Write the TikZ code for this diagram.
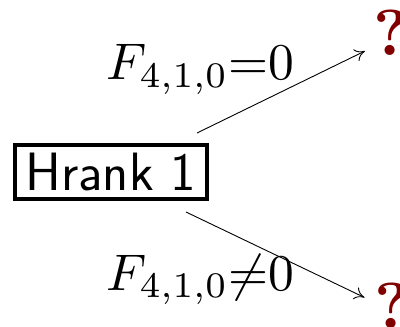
\RequirePackage{fix-cm}
\documentclass[tikz,border=0pt]{standalone}
\usetikzlibrary{arrows.meta}
\definecolor{qred}{RGB}{128,0,0}
\begin{document}
\begin{tikzpicture}[x=1pt,y=-1pt,
  boxnode/.style={draw,line width=4pt,minimum width=191.5pt,minimum height=54.3pt,inner sep=0pt,font=\sffamily\fontsize{54}{60}\selectfont},
  condlabel/.style={inner sep=0pt,anchor=base},
  qmark/.style={inner sep=0pt,anchor=base west,text=qred},
  branch/.style={line width=0.9pt,-{To[length=10pt,width=13pt]}}]
\useasboundingbox (0,0) rectangle (400,327);
\node[boxnode] (hr) at (110.75,171.85) {Hrank 1};
\node[condlabel] (l1) at (200.5,79.5) {\scalebox{5.15}{$F_{4,1,0}{=}0$}};
\node[condlabel] (l2) at (200.5,290) {\scalebox{5.15}{$F_{4,1,0}{\neq}0$}};
\node[qmark] (q1) at (373,55) {\scalebox{6.5}{\bfseries ?}};
\node[qmark] (q2) at (374,328) {\scalebox{6.5}{\bfseries ?}};
\coordinate (s1) at (197,133);
\coordinate (e1) at (365,51);
\coordinate (s2) at (186,212);
\coordinate (e2) at (364.5,297.5);
\draw[branch] (s1) -- (e1);
\draw[branch] (s2) -- (e2);
\end{tikzpicture}
\end{document}
